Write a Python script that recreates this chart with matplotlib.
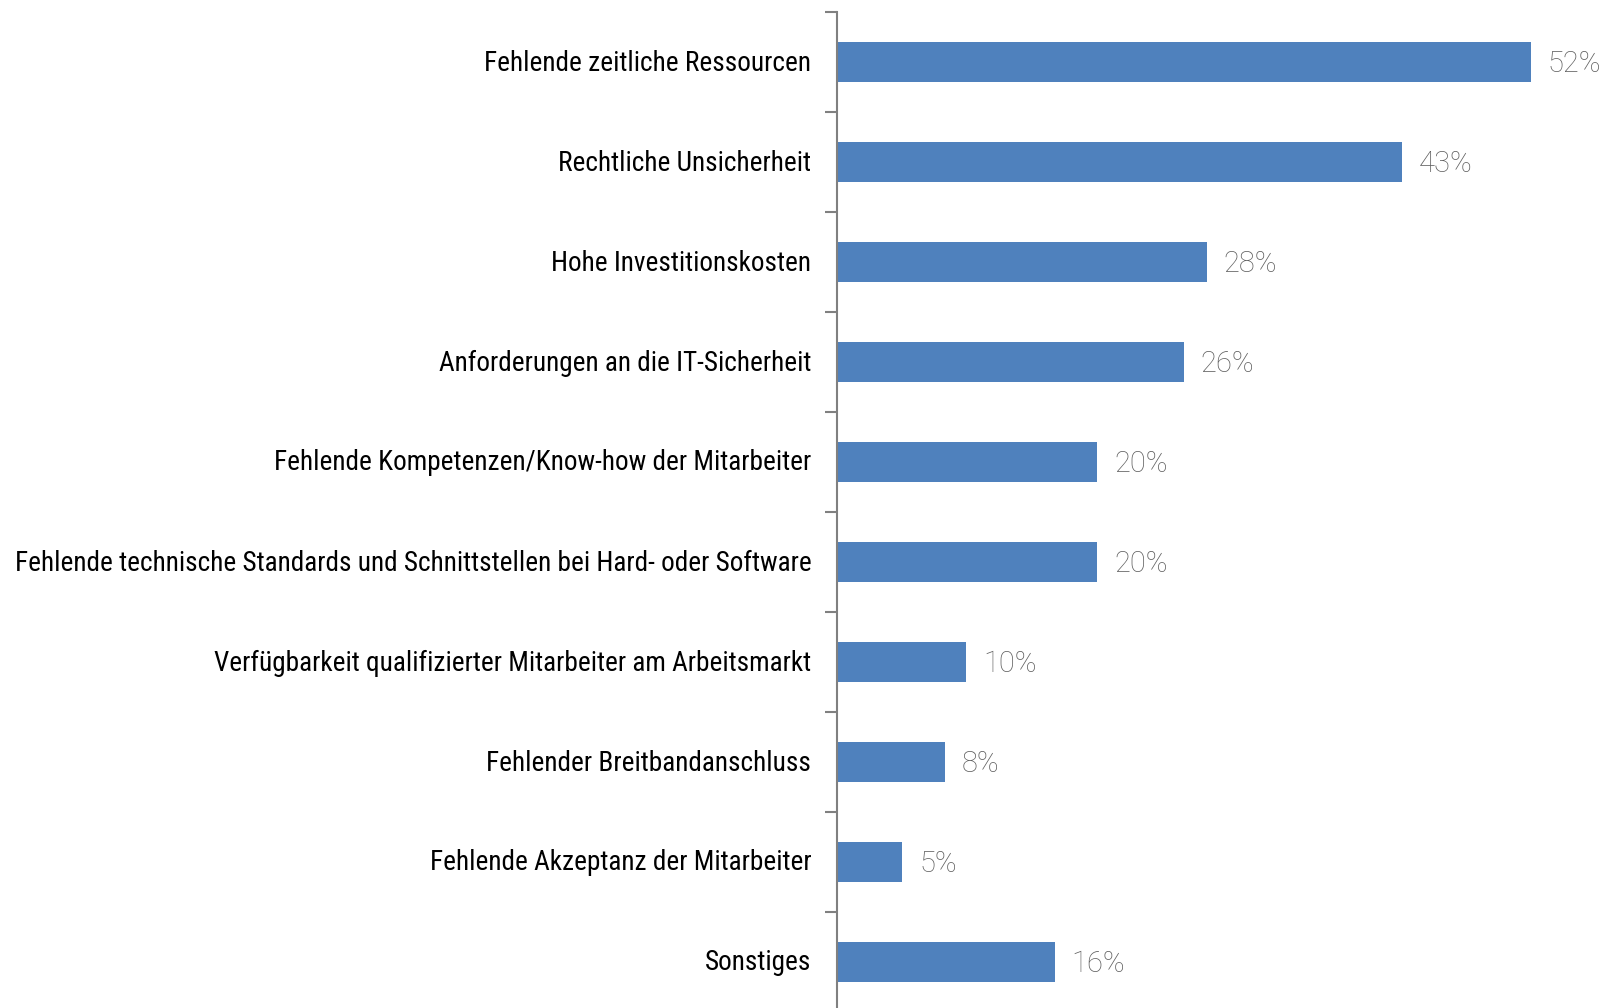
import matplotlib
matplotlib.use("Agg")
import matplotlib.pyplot as plt
from matplotlib import font_manager
import numpy as np

categories = [
    "Fehlende zeitliche Ressourcen",
    "Rechtliche Unsicherheit",
    "Hohe Investitionskosten",
    "Anforderungen an die IT-Sicherheit",
    "Fehlende Kompetenzen/Know-how der Mitarbeiter",
    "Fehlende technische Standards und Schnittstellen bei Hard- oder Software",
    "Verfügbarkeit qualifizierter Mitarbeiter am Arbeitsmarkt",
    "Fehlender Breitbandanschluss",
    "Fehlende Akzeptanz der Mitarbeiter",
    "Sonstiges",
]
values = [52.0, 42.3, 27.7, 26.0, 19.5, 19.5, 9.7, 8.1, 4.9, 16.3]
value_labels = ["52%", "43%", "28%", "26%", "20%", "20%", "10%", "8%", "5%", "16%"]

available = {f.name for f in font_manager.fontManager.ttflist}
prefs = ["Liberation Sans Narrow", "Arial Narrow", "Nimbus Sans Narrow", "Arimo Narrow",
         "Roboto Condensed", "PT Sans Narrow", "Archivo Narrow", "Liberation Sans"]
label_font = next((p for p in prefs if p in available), "DejaVu Sans")
num_prefs = ["Roboto", "Roboto Flex", "DejaVu Sans"]
num_font = next((p for p in num_prefs if p in available), "DejaVu Sans")

W, H = 1604, 1008
fig = plt.figure(figsize=(W / 100, H / 100), dpi=100)
x0 = 837
px_per_unit = 13.35
xmax = 55
top = 12
ax = fig.add_axes([x0 / W, 0, xmax * px_per_unit / W, (H - top) / H])

y = np.arange(len(categories))
ax.barh(y, values, height=0.4, color="#4F81BD", edgecolor="none")
ax.set_xlim(0, xmax)
ax.set_ylim(-0.5 + (H - top) / 100, -0.5)

for yi, v, lab in zip(y, values, value_labels):
    ax.text(v + 1.25, yi + 0.02, lab, va="center", ha="left", fontsize=21,
            family=[num_font, "DejaVu Sans"], fontweight="light", color="#5F5F5F")

# fit label font size so the longest label is ~797 px wide
renderer = fig.canvas.get_renderer()
probe = fig.text(0, 0, categories[5], fontsize=21, family=[label_font, "DejaVu Sans"])
wpx = probe.get_window_extent(renderer).width
probe.remove()
label_size = min(24, 21 * 797 / wpx)

ax.set_yticks(y - 0.02)
ax.set_yticklabels(categories, family=[label_font, "DejaVu Sans"],
                   fontsize=label_size, color="black")
ax.tick_params(axis="y", which="major", length=0, pad=18.5)
ax.set_yticks(np.arange(-0.5, len(categories) - 0.5, 1.0), minor=True)
ax.tick_params(axis="y", which="minor", length=9, width=1.5, color="#808080", direction="out")
ax.set_xticks([])
for s in ["top", "right", "bottom"]:
    ax.spines[s].set_visible(False)
ax.spines["left"].set_color("#808080")
ax.spines["left"].set_linewidth(1.5)

fig.savefig("out.png", dpi=100)
